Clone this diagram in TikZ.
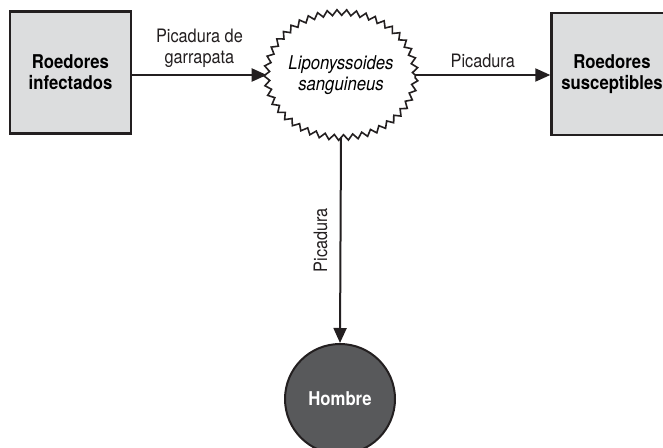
\documentclass[tikz,border=0pt]{standalone}
\usepackage{fontspec}
\setmainfont[FakeStretch=0.88]{TeX Gyre Heros}
\usetikzlibrary{arrows.meta,shapes.geometric,decorations.pathmorphing}

\definecolor{ink}{HTML}{231F20}
\definecolor{boxgray}{HTML}{DCDDDE}
\definecolor{mangray}{HTML}{58595B}

\tikzset{
  hostbox/.style={draw=ink, fill=boxgray, line width=2.4pt, inner sep=0pt,
    minimum width=121pt, minimum height=122pt, align=center,
    font=\fontsize{19}{21}\selectfont\bfseries},
  vector/.style={ellipse, draw=ink, line width=1.6pt, inner sep=0pt, outer sep=0pt,
    minimum width=141pt, minimum height=125pt, align=center,
    decorate, decoration={zigzag, segment length=9.5pt, amplitude=2.8pt},
    font=\fontsize{19}{21}\selectfont\itshape},
  human/.style={circle, draw=ink, fill=mangray, line width=2pt, inner sep=0pt,
    minimum size=110pt, text=white, font=\fontsize{19}{21}\selectfont\bfseries},
  flow/.style={draw=ink, line width=2pt, -{Triangle[length=15pt,width=13pt]}},
  lbl/.style={align=center, text=ink, font=\fontsize{18.5}{21}\selectfont, inner sep=0pt}
}

\begin{document}
\begin{tikzpicture}[x=1pt,y=-1pt]
  \clip (0,0) rectangle (663,447);
  \fill[white] (0,0) rectangle (663,447);

  % hosts, vector and human
  \node[hostbox] (inf) at (70.5,72.5) {Roedores\\infectados};
  \node[hostbox] (sus) at (612,74) {Roedores\\susceptibles};
  \node[vector] (mite) at (341,75) {Liponyssoides\\sanguineus};
  \node[human] (man) at (340,399) {Hombre};

  % transmission arrows
  \draw[flow] (inf.east |- mite.west) -- (mite.west)
    node[lbl, midway, above=6pt] (l1) {Picadura de\\garrapata};
  \draw[flow] (mite.east) -- (sus.west |- mite.east)
    node[lbl, midway, above=6pt] (l2) {Picadura};
  \draw[flow] (mite.south) -- (man.north)
    node[lbl, pos=0.5, left=12pt, rotate=90, anchor=south] (l3) {Picadura};
\end{tikzpicture}
\end{document}
